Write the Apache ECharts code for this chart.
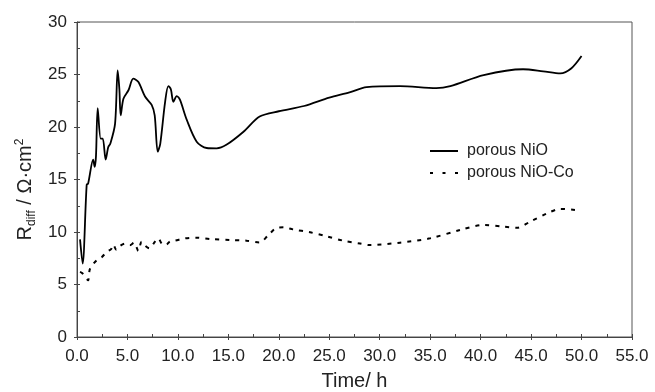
<!DOCTYPE html>
<html>
<head>
<meta charset="utf-8">
<script src="https://cdn.jsdelivr.net/npm/echarts@6/dist/echarts.min.js"></script>
<style>
html,body{margin:0;padding:0;background:#fff;}
#chart{width:655px;height:392px;}
</style>
</head>
<body>
<div id="chart"></div>
<script>
// 数据
var seriesNames = ['porous NiO', 'porous NiO-Co'];
var xTicks = [0, 5, 10, 15, 20, 25, 30, 35, 40, 45, 50, 55];
var yTicks = [0, 5, 10, 15, 20, 25, 30];

var nioTime = [0.3, 0.56, 0.96, 1.1, 1.6, 1.75, 1.88, 2.05, 2.35, 2.55, 2.84, 3.1, 3.3, 3.77, 4.03, 4.2, 4.33, 4.6, 5.1, 5.58, 6.07, 6.74, 7.4, 7.7, 8.0, 8.25, 8.72, 9.05, 9.3, 9.55, 9.88, 10.2, 10.87, 11.86, 12.85, 13.84, 14.8, 16.5, 18.1, 20.0, 22.5, 25.0, 27.0, 28.7, 32.0, 35.6, 37.0, 40.3, 44.2, 46.2, 47.9, 49.0, 50.0];
var nioR = [9.3, 7.0, 14.5, 14.6, 16.9, 16.2, 17.2, 21.8, 18.9, 18.9, 16.9, 18.1, 18.4, 20.3, 25.4, 23.6, 21.1, 22.7, 23.5, 24.6, 24.3, 22.9, 22.1, 21.1, 17.65, 18.4, 22.3, 23.9, 23.6, 22.4, 22.95, 22.6, 20.7, 18.6, 18.0, 17.97, 18.3, 19.55, 21.0, 21.5, 22.0, 22.8, 23.3, 23.8, 23.9, 23.7, 23.9, 24.95, 25.5, 25.3, 25.1, 25.6, 26.76];

var coTime = [0.3, 0.5, 0.8, 1.1, 1.29, 1.95, 2.45, 2.94, 3.4, 3.6, 3.9, 4.26, 4.76, 5.25, 5.65, 6.08, 6.4, 6.7, 7.17, 7.73, 8.06, 8.4, 8.82, 9.2, 9.7, 10.7, 11.86, 13.2, 15.2, 16.8, 18.1, 18.96, 19.8, 20.5, 21.4, 23.1, 24.7, 26.4, 28.05, 29.0, 32.0, 35.0, 38.0, 40.3, 42.3, 43.6, 44.9, 46.6, 47.9, 49.4];
var coR = [6.2, 6.1, 5.75, 5.4, 6.5, 7.3, 7.6, 8.1, 8.4, 8.8, 8.3, 8.67, 8.9, 8.75, 8.98, 8.2, 9.08, 8.75, 8.45, 9.08, 9.4, 8.9, 8.76, 9.1, 9.17, 9.4, 9.46, 9.33, 9.24, 9.17, 9.0, 9.7, 10.4, 10.45, 10.25, 9.97, 9.6, 9.17, 8.9, 8.76, 8.98, 9.4, 10.2, 10.67, 10.5, 10.4, 10.98, 11.78, 12.2, 12.1];

function pairs(xs, ys){
	var out = [];
	for(var i=0;i<xs.length;i++){ out.push([xs[i], ys[i]]); }
	return out;
}

var axisColor = '#444';
var txtColor = '#222';
var fontFam = 'Liberation Sans, Arial, sans-serif';

var myChart = echarts.init(document.getElementById('chart'));
var option = {
	animation:false,
	backgroundColor:'#fff',
	grid:{
		left:77, right:23, top:22, bottom:55,
		outerBoundsMode:'none', containLabel:false,
		show:true, borderColor:'#555', borderWidth:1
	},
	legend:{
		orient:'vertical',
		left:425, top:138,
		itemWidth:28, itemHeight:10, itemGap:6,
		textStyle:{color:txtColor, fontSize:16, fontFamily:fontFam, padding:[0,0,0,4]},
		data:[
			{name:seriesNames[0], icon:'path://M0,0 L28,0 L28,2 L0,2 Z', itemStyle:{color:'#000'}},
			{name:seriesNames[1], icon:'path://M0,0 L3,0 L3,2 L0,2 Z M12.5,0 L15.5,0 L15.5,2 L12.5,2 Z M25,0 L28,0 L28,2 L25,2 Z', itemStyle:{color:'#000'}}
		]
	},
	xAxis:[
		{
			type:'value',
			min:xTicks[0], max:xTicks[xTicks.length-1], interval:5,
			name:'Time/ h', nameLocation:'middle', nameGap:34,
			nameTextStyle:{color:txtColor, fontSize:20, fontFamily:fontFam},
			axisLine:{onZero:false, lineStyle:{color:axisColor, width:1}},
			axisTick:{show:true, inside:false, length:3, lineStyle:{color:axisColor}},
			axisLabel:{color:txtColor, fontSize:17, fontFamily:fontFam, margin:11,
				formatter:function(v){ return v.toFixed(1); }},
			splitLine:{show:false}
		},
		{
			type:'value', position:'bottom',
			min:xTicks[0], max:xTicks[xTicks.length-1], interval:5,
			axisLine:{show:false, onZero:false},
			axisTick:{show:true, inside:true, length:3, lineStyle:{color:axisColor}},
			minorTick:{show:true, splitNumber:2, length:3, lineStyle:{color:axisColor}},
			axisLabel:{show:false},
			splitLine:{show:false}
		}
	],
	yAxis:[
		{
			type:'value',
			min:yTicks[0], max:yTicks[yTicks.length-1], interval:5,
			name:'{m|R}{s|diff}{m| / Ω·cm}{p|2}', nameLocation:'middle', nameGap:39, nameRotate:90,
			nameTextStyle:{
				color:txtColor, fontFamily:fontFam, padding:[0,20,0,0],
				rich:{
					m:{fontSize:20, color:txtColor, fontFamily:fontFam},
					s:{fontSize:12, color:txtColor, fontFamily:fontFam, verticalAlign:'bottom', padding:[12,0,0,0]},
					p:{fontSize:12, color:txtColor, fontFamily:fontFam, verticalAlign:'top', padding:[0,0,12,0]}
				}
			},
			axisLine:{onZero:false, lineStyle:{color:axisColor, width:1}},
			axisTick:{show:true, inside:false, length:3, lineStyle:{color:axisColor}},
			axisLabel:{color:txtColor, fontSize:17, fontFamily:fontFam, margin:10},
			splitLine:{show:false}
		},
		{
			type:'value', position:'left',
			min:yTicks[0], max:yTicks[yTicks.length-1], interval:5,
			axisLine:{show:false, onZero:false},
			axisTick:{show:true, inside:true, length:3, lineStyle:{color:axisColor}},
			minorTick:{show:true, splitNumber:2, length:3, lineStyle:{color:axisColor}},
			axisLabel:{show:false},
			splitLine:{show:false}
		}
	],
	series:[
		{
			name:seriesNames[0],
			type:'line',
			smooth:0.3,
			showSymbol:false,
			lineStyle:{color:'#000', width:1.8},
			itemStyle:{color:'#000'},
			data:pairs(nioTime, nioR)
		},
		{
			name:seriesNames[1],
			type:'line',
			smooth:0.3,
			showSymbol:false,
			lineStyle:{color:'#000', width:2, type:[4,6]},
			itemStyle:{color:'#000'},
			data:pairs(coTime, coR)
		}
	]
};
myChart.setOption(option);
</script>
</body>
</html>
